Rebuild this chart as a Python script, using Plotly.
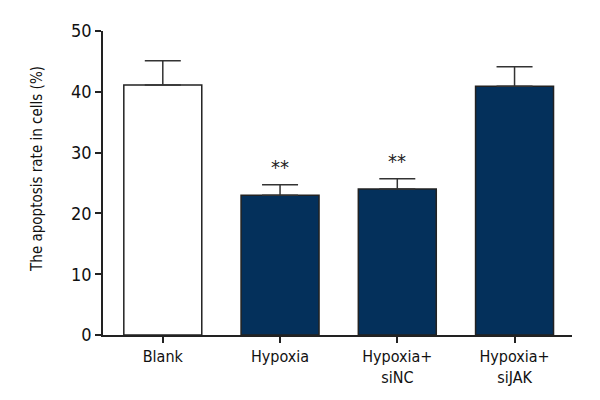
import plotly.graph_objects as go

categories = ["Blank", "Hypoxia", "Hypoxia+<br>siNC", "Hypoxia+<br>siJAK"]
values = [41.1, 23.0, 24.0, 40.9]
errors = [4.0, 1.7, 1.7, 3.2]
fill_colors = ["white", "#04305b", "#04305b", "#04305b"]
stars = ["", "**", "**", ""]
y_title = "The apoptosis rate in cells (%)"

FONT = "DejaVu Sans Condensed, Liberation Sans Narrow, sans-serif"

fig = go.Figure()
fig.add_trace(go.Bar(
    x=list(range(len(categories))),
    y=values,
    width=0.665,
    marker=dict(color=fill_colors, line=dict(color="#222222", width=1.5)),
    error_y=dict(type="data", symmetric=False, array=errors,
                 arrayminus=[0] * len(errors),
                 color="#333333", thickness=1.5, width=18),
))

for i, s in enumerate(stars):
    if s:
        fig.add_annotation(x=i, y=values[i] + errors[i], text=s, showarrow=False,
                           yanchor="bottom", yshift=4,
                           font=dict(family=FONT, size=20, color="#222222"))

fig.add_annotation(xref="paper", yref="paper", x=-0.141, y=0.546,
                   text=y_title, textangle=-90, showarrow=False,
                   xanchor="center", yanchor="middle",
                   font=dict(family=FONT, size=15, color="#111111"))

fig.update_layout(
    width=600, height=400,
    margin=dict(l=95, r=36, t=15, b=73),
    plot_bgcolor="white", paper_bgcolor="white",
    showlegend=False,
    font=dict(family=FONT, size=16, color="#111111"),
    xaxis=dict(range=[-0.51, 3.49], tickvals=list(range(len(categories))),
               ticktext=categories, showline=True, linecolor="#222222",
               linewidth=1.5, ticks="outside", ticklen=6, tickcolor="#222222",
               tickwidth=1.5, showgrid=False, zeroline=False,
               tickfont=dict(size=16)),
    yaxis=dict(range=[0, 50], dtick=10, showline=True, linecolor="#222222",
               linewidth=1.5, ticks="outside", ticklen=6, tickcolor="#222222",
               tickwidth=1.5, showgrid=False, zeroline=False,
               tickfont=dict(size=18)),
)

fig.write_html("out.html")
